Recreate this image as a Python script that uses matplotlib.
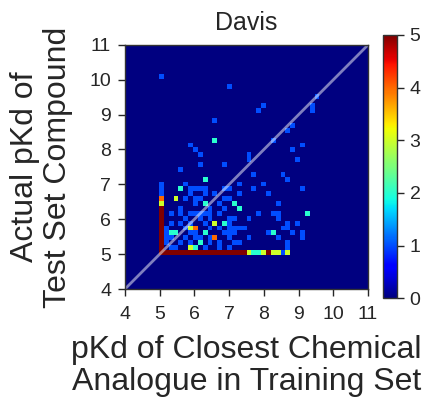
import matplotlib
matplotlib.use("Agg")
import matplotlib.pyplot as plt

plt.rcParams['font.family'] = ['Liberation Sans', 'DejaVu Sans']

# ---- data: occupied 2D-histogram cells (bin centre values) ----
closest_pkd = [
    5.05, 7.01, 9.53, 7.99, 9.39, 7.85, 9.39, 6.59, 8.83, 8.69, 6.59, 8.27, 5.89, 9.11,
    6.03, 8.83, 6.17, 7.57, 7.57, 8.97, 6.17, 6.87, 5.61, 7.71, 8.55, 6.31, 8.69,
    5.05, 5.75, 7.29, 7.99,
    5.05, 5.61, 5.89, 6.03, 6.17, 6.31, 6.87, 7.01, 7.71, 9.11,
    5.05, 5.89, 6.31, 6.59, 7.29, 8.13,
    5.05, 5.47, 5.75, 6.03, 6.17, 6.87, 7.01,
    5.05, 6.03, 6.31, 6.73, 7.15, 8.41,
    5.05, 5.61, 6.45, 6.87, 7.29,
    5.05, 5.33, 5.61, 5.89, 6.03, 6.17, 6.31, 6.45, 6.73, 7.85, 8.27, 8.41, 9.25,
    5.05, 5.75, 6.17, 6.45, 7.01, 7.15, 7.57, 8.41,
    5.05, 5.33, 5.61, 5.89, 6.31, 6.59, 6.87, 7.01, 8.69, 8.97,
    5.05, 5.19, 5.75, 5.89, 6.03, 6.45, 6.73, 7.01, 7.15, 7.29, 7.43, 8.55, 8.69,
    5.05, 5.19, 5.33, 5.47, 5.89, 6.03, 6.31, 6.87, 7.01, 7.15, 8.13, 8.27, 8.83, 9.11,
    5.05, 5.19, 5.33, 5.75, 6.03, 6.17, 6.45, 6.59, 7.01, 7.57, 8.41, 9.11,
    5.05, 5.19, 5.61, 5.89, 6.17, 6.45, 6.73, 7.15, 7.29, 8.69,
    5.05, 5.33, 5.47, 5.89, 6.03, 6.31, 6.73, 7.01, 8.69,
    5.05, 5.19, 5.33, 5.47, 5.61, 5.75, 5.89, 6.03, 6.17, 6.31, 6.45, 6.59, 6.73, 6.87,
    7.01, 7.15, 7.29, 7.43, 7.57, 7.71, 7.85, 7.99, 8.13, 8.27, 8.41, 8.55, 8.69,
]
actual_pkd = [
    10.09, 9.81, 9.53, 9.25, 9.25, 9.11, 9.11, 8.83, 8.69, 8.55, 8.27, 8.27, 8.13, 8.13,
    7.99, 7.99, 7.85, 7.85, 7.71, 7.71, 7.57, 7.57, 7.43, 7.29, 7.29, 7.15, 7.15,
    7.01, 7.01, 7.01, 7.01,
    6.87, 6.87, 6.87, 6.87, 6.87, 6.87, 6.87, 6.87, 6.87, 6.87,
    6.73, 6.73, 6.73, 6.73, 6.73, 6.73,
    6.59, 6.59, 6.59, 6.59, 6.59, 6.59, 6.59,
    6.45, 6.45, 6.45, 6.45, 6.45, 6.45,
    6.31, 6.31, 6.31, 6.31, 6.31,
    6.17, 6.17, 6.17, 6.17, 6.17, 6.17, 6.17, 6.17, 6.17, 6.17, 6.17, 6.17, 6.17,
    6.03, 6.03, 6.03, 6.03, 6.03, 6.03, 6.03, 6.03,
    5.89, 5.89, 5.89, 5.89, 5.89, 5.89, 5.89, 5.89, 5.89, 5.89,
    5.75, 5.75, 5.75, 5.75, 5.75, 5.75, 5.75, 5.75, 5.75, 5.75, 5.75, 5.75, 5.75,
    5.61, 5.61, 5.61, 5.61, 5.61, 5.61, 5.61, 5.61, 5.61, 5.61, 5.61, 5.61, 5.61, 5.61,
    5.47, 5.47, 5.47, 5.47, 5.47, 5.47, 5.47, 5.47, 5.47, 5.47, 5.47, 5.47,
    5.33, 5.33, 5.33, 5.33, 5.33, 5.33, 5.33, 5.33, 5.33, 5.33,
    5.19, 5.19, 5.19, 5.19, 5.19, 5.19, 5.19, 5.19, 5.19,
    5.05, 5.05, 5.05, 5.05, 5.05, 5.05, 5.05, 5.05, 5.05, 5.05, 5.05, 5.05, 5.05, 5.05,
    5.05, 5.05, 5.05, 5.05, 5.05, 5.05, 5.05, 5.05, 5.05, 5.05, 5.05, 5.05, 5.05,
]
n_pairs = [
    1, 1, 1, 1, 1, 1, 1, 1, 1, 1, 2, 1, 1, 1,
    1, 1, 1, 1, 1, 1, 1, 1, 1, 1, 1, 2, 1,
    1, 1, 1, 1,
    1, 2, 1, 1, 1, 1, 1, 1, 1, 1,
    1, 1, 1, 1, 1, 1,
    4, 3, 1, 1, 1, 1, 1,
    3, 1, 2, 1, 2, 1,
    5, 1, 1, 1, 2,
    5, 1, 1, 1, 1, 1, 1, 1, 1, 1, 1, 1, 2,
    5, 1, 1, 1, 1, 1, 1, 1,
    5, 1, 1, 1, 1, 3, 2, 1, 1, 1,
    5, 1, 1, 3, 4, 1, 1, 1, 1, 1, 1, 1, 1,
    5, 1, 2, 2, 1, 1, 2, 1, 1, 1, 1, 2, 1, 1,
    5, 1, 1, 1, 1, 1, 1, 4, 1, 1, 1, 1,
    5, 1, 1, 1, 2, 1, 1, 1, 1, 1,
    5, 1, 1, 3, 2, 1, 1, 1, 1,
    5, 5, 5, 5, 5, 5, 5, 5, 5, 5, 5, 5, 5, 5,
    5, 5, 5, 5, 3, 2, 2, 3, 5, 3, 3, 1, 3,
]
axis_range = [4, 11]
n_bins = 50
axis_ticks = [4, 5, 6, 7, 8, 9, 10, 11]
cbar_ticks = [0, 1, 2, 3, 4, 5]

title = "Davis"
xlabel = "pKd of Closest Chemical\nAnalogue in Training Set"
ylabel = "Actual pKd of\nTest Set Compound"

text_color = '#262626'
spine_color = '#333333'

fig = plt.figure(figsize=(4.28, 3.97), dpi=100)
ax = fig.add_axes([0.292, 0.272, 0.568, 0.615])

h = ax.hist2d(closest_pkd, actual_pkd, bins=n_bins,
              range=[axis_range, axis_range], weights=n_pairs,
              cmap='jet', vmin=0, vmax=5)
ax.plot(axis_range, axis_range, color='white', alpha=0.5, lw=2)

ax.set_xlim(axis_range)
ax.set_ylim(axis_range)
ax.set_xticks(axis_ticks)
ax.set_yticks(axis_ticks)
ax.tick_params(direction='out', length=5, width=1, labelsize=14,
               colors=text_color)
ax.tick_params(axis='x', pad=7)
ax.tick_params(axis='y', pad=5)
for s in ax.spines.values():
    s.set_color(spine_color)
    s.set_linewidth(1)

ax.set_title(title, fontsize=18, color=text_color, pad=11)
ax.set_xlabel(xlabel, fontsize=23, color=text_color, labelpad=9, linespacing=1.1)
ax.set_ylabel(ylabel, fontsize=23, color=text_color, labelpad=12, linespacing=1.1)

cax = fig.add_axes([0.895, 0.249, 0.033, 0.663])
cb = fig.colorbar(h[3], cax=cax, ticks=cbar_ticks)
cb.ax.tick_params(direction='out', length=5, width=1, labelsize=14,
                  colors=text_color, pad=4)
cb.outline.set_edgecolor(spine_color)
cb.outline.set_linewidth(1)

fig.savefig("out.png", dpi=100)
